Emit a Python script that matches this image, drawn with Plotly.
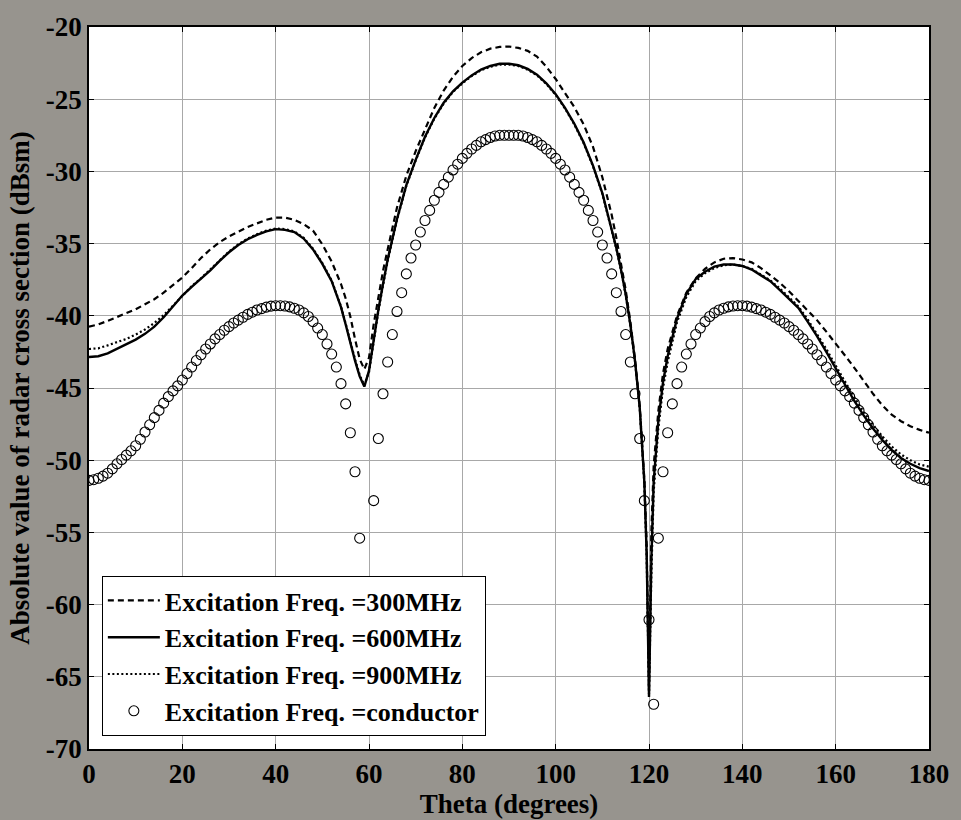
import plotly.graph_objects as go

# ---------------- data ----------------
theta_line = [0, 2, 4, 6, 8, 10, 12, 14, 16, 18, 20, 22, 24, 26, 28, 30, 32, 34, 36, 38,
              40, 42, 44, 46, 48, 50, 52, 54, 55, 56, 57, 58, 59, 60, 61, 62, 63, 64,
              66, 68, 70, 72, 74, 76, 78, 80, 82, 84, 86, 88, 90, 92, 94, 96, 98, 100,
              102, 104, 106, 108, 110, 112, 113, 114, 115, 116, 117, 118, 119, 119.5,
              120, 120.5, 121, 122, 123, 124, 126, 128, 130, 132, 134, 136, 138, 140,
              142, 144, 146, 148, 150, 152, 154, 156, 158, 160, 162, 164, 166, 168,
              170, 172, 174, 176, 178, 180]

rcs_300 = [-40.75, -40.6, -40.35, -40.1, -39.85, -39.55, -39.2, -38.85, -38.4, -37.9,
           -37.35, -36.7, -36.0, -35.4, -34.9, -34.5, -34.15, -33.85, -33.6, -33.35,
           -33.2, -33.2, -33.35, -33.65, -34.1, -35.05, -36.25, -37.8, -38.8, -40.05,
           -41.6, -43.0, -43.7, -42.9, -40.6, -38.6, -36.9, -35.4,
           -32.5, -30.3, -28.6, -27.1, -25.6, -24.4, -23.45, -22.7, -22.15, -21.75,
           -21.5, -21.38, -21.35, -21.45, -21.65, -22.05, -22.75, -23.6,
           -24.55, -25.55, -26.75, -28.3, -30.4, -33.0, -34.6, -36.3, -38.2, -40.4,
           -43.0, -46.2, -51.3, -55.8,
           -66.0, -55.0, -50.4, -46.6, -44.0, -42.3, -40.0, -38.4, -37.4, -36.75,
           -36.3, -36.05, -36.0, -36.1,
           -36.3, -36.7, -37.2, -37.7, -38.3, -38.95, -39.6, -40.3, -41.1, -41.9,
           -42.75, -43.6, -44.5, -45.4,
           -46.2, -46.85, -47.3, -47.65, -47.9, -48.1]

rcs_600 = [-42.85, -42.8, -42.6, -42.3, -42.0, -41.65, -41.25, -40.75, -40.1, -39.35,
           -38.6, -38.0, -37.45, -36.85, -36.2, -35.6, -35.1, -34.7, -34.4, -34.15,
           -34.0, -34.05, -34.2, -34.65, -35.4, -36.4, -37.6, -39.4, -40.6, -41.9,
           -43.1, -44.2, -44.9, -43.8, -41.6, -39.6, -37.8, -36.1,
           -33.3, -30.95, -29.2, -27.6, -26.3, -25.25, -24.45, -23.85, -23.35, -22.95,
           -22.7, -22.55, -22.55, -22.65, -22.9, -23.3, -23.9, -24.65,
           -25.6, -26.7, -28.0, -29.6, -31.5, -34.0, -35.3, -36.8, -38.5, -40.6,
           -43.1, -46.3, -51.5, -56.5,
           -66.4, -57.0, -51.5, -47.3, -44.6, -42.8, -40.2, -38.5, -37.45, -36.95,
           -36.6, -36.45, -36.45, -36.55,
           -36.8, -37.2, -37.6, -38.2, -38.8, -39.45, -40.4, -41.4, -42.5, -43.65,
           -44.8, -45.9, -46.9, -47.8,
           -48.6, -49.3, -49.85, -50.25, -50.55, -50.75]

rcs_900 = [-42.3, -42.25, -42.05, -41.85, -41.6, -41.3, -40.95, -40.5, -39.95, -39.3,
           -38.6, -37.95, -37.4, -36.8, -36.15, -35.55, -35.05, -34.65, -34.35, -34.1,
           -33.95, -34.0, -34.15, -34.6, -35.35, -36.35, -37.55, -39.35, -40.55, -41.85,
           -43.0, -44.1, -44.8, -43.9, -41.7, -39.7, -37.9, -36.2,
           -33.35, -31.0, -29.25, -27.65, -26.35, -25.3, -24.5, -23.9, -23.4, -23.0,
           -22.75, -22.6, -22.6, -22.7, -22.95, -23.35, -23.95, -24.7,
           -25.65, -26.75, -28.05, -29.65, -31.55, -34.05, -35.35, -36.85, -38.55, -40.65,
           -43.15, -46.35, -51.6, -56.7,
           -66.2, -58.0, -52.2, -47.8, -45.0, -43.2, -40.45, -38.7, -37.6, -37.05,
           -36.7, -36.5, -36.45, -36.55,
           -36.75, -37.15, -37.55, -38.1, -38.7, -39.35, -40.25, -41.25, -42.3, -43.45,
           -44.6, -45.65, -46.65, -47.55,
           -48.35, -49.05, -49.6, -50.0, -50.3, -50.45]

theta_cond = list(range(0, 181))
rcs_cond = [
    -51.4, -51.35, -51.25, -51.1, -50.9, -50.6, -50.25, -49.95, -49.65, -49.35,    # 0-9
    -49.0, -48.55, -48.05, -47.55, -47.05, -46.55, -46.05, -45.6, -45.2, -44.85,   # 10-19
    -44.45, -44.0, -43.55, -43.1, -42.7, -42.3, -41.95, -41.6, -41.3, -41.0,       # 20-29
    -40.75, -40.5, -40.3, -40.1, -39.9, -39.75, -39.6, -39.5, -39.4, -39.33,       # 30-39
    -39.3, -39.3, -39.32, -39.38, -39.48, -39.6, -39.8, -40.05, -40.4, -40.85,     # 40-49
    -41.3, -41.95, -42.65, -43.55, -44.7, -46.1, -48.1, -50.8, -55.4, -66.9,       # 50-59
    -61.05, -52.8, -48.5, -45.4, -43.2, -41.3, -39.7, -38.4, -37.1, -36.0,         # 60-69
    -35.1, -34.2, -33.4, -32.7, -32.0, -31.45, -30.9, -30.4, -29.9, -29.5,         # 70-79
    -29.1, -28.75, -28.45, -28.2, -27.95, -27.8, -27.65, -27.55, -27.5, -27.5,     # 80-89
    -27.5, -27.5, -27.5, -27.55, -27.65, -27.8, -27.95, -28.2, -28.45, -28.75,     # 90-99
    -29.1, -29.5, -29.9, -30.4, -30.9, -31.45, -32.0, -32.7, -33.4, -34.2,         # 100-109
    -35.1, -36.0, -37.1, -38.4, -39.7, -41.3, -43.2, -45.4, -48.5, -52.8,          # 110-119
    -61.05, -66.9, -55.4, -50.8, -48.1, -46.1, -44.7, -43.55, -42.65, -41.95,      # 120-129
    -41.3, -40.85, -40.4, -40.05, -39.8, -39.6, -39.48, -39.38, -39.32, -39.3,     # 130-139
    -39.3, -39.33, -39.4, -39.5, -39.6, -39.75, -39.9, -40.1, -40.3, -40.5,        # 140-149
    -40.75, -41.0, -41.3, -41.6, -41.95, -42.3, -42.7, -43.1, -43.55, -44.0,       # 150-159
    -44.45, -44.85, -45.2, -45.6, -46.05, -46.55, -47.05, -47.55, -48.05, -48.55,  # 160-169
    -49.0, -49.35, -49.65, -49.95, -50.25, -50.6, -50.9, -51.1, -51.25, -51.35,    # 170-179
    -51.4]                                                                          # 180

series_names = ["Excitation Freq. =300MHz", "Excitation Freq. =600MHz",
                "Excitation Freq. =900MHz", "Excitation Freq. =conductor"]

x_ticks = [0, 20, 40, 60, 80, 100, 120, 140, 160, 180]
x_ticktext = ["0", "20", "40", "60", "80", "100", "120", "140", "160", "180"]
y_ticks = [-70, -65, -60, -55, -50, -45, -40, -35, -30, -25, -20]
y_ticktext = ["-70", "-65", "-60", "-55", "-50", "-45", "-40", "-35", "-30", "-25", "-20"]

# ---------------- figure ----------------
FONT = "Liberation Serif, Times New Roman, serif"
FS = 27
fig = go.Figure()
fig.add_trace(go.Scatter(x=theta_line, y=rcs_300, mode="lines", name=series_names[0],
                         line=dict(color="black", width=2.2, dash="6px,4px")))
fig.add_trace(go.Scatter(x=theta_line, y=rcs_600, mode="lines", name=series_names[1],
                         line=dict(color="black", width=2.4)))
fig.add_trace(go.Scatter(x=theta_line, y=rcs_900, mode="lines", name=series_names[2],
                         line=dict(color="black", width=2.2, dash="2px,2.5px")))
fig.add_trace(go.Scatter(x=theta_cond, y=rcs_cond, mode="markers", name=series_names[3],
                         marker=dict(symbol="circle-open", size=10, color="black",
                                     line=dict(width=1.1, color="black"))))

axis_common = dict(
    showgrid=True, gridcolor="#a8a8a8", gridwidth=1,
    showline=True, linecolor="black", linewidth=1.5, mirror="ticks",
    ticks="inside", ticklen=5, tickwidth=1, tickcolor="black",
    zeroline=False,
    tickfont=dict(family=FONT, size=FS, color="black", weight="bold"),
)

fig.update_layout(
    width=961, height=820, autosize=False,
    margin=dict(l=89, r=24, t=17, b=64),
    paper_bgcolor="#97948e",
    plot_bgcolor="white",
    showlegend=True,
    legend=dict(x=0.0153, y=0.018, xanchor="left", yanchor="bottom",
                bgcolor="white", bordercolor="black", borderwidth=1,
                font=dict(family=FONT, size=26, color="black", weight="bold"),
                tracegroupgap=0, itemwidth=52),
    xaxis=dict(range=[0, 180], tickvals=x_ticks, ticktext=x_ticktext,
               title=dict(text="Theta (degrees)", standoff=0,
                          font=dict(family=FONT, size=FS, color="black", weight="bold")),
               **axis_common),
    yaxis=dict(range=[-70, -20], tickvals=y_ticks, ticktext=y_ticktext,
               title=dict(text="Absolute value of radar cross section (dBsm)", standoff=8,
                          font=dict(family=FONT, size=FS, color="black", weight="bold")),
               **axis_common),
)

fig.write_html("out.html")
